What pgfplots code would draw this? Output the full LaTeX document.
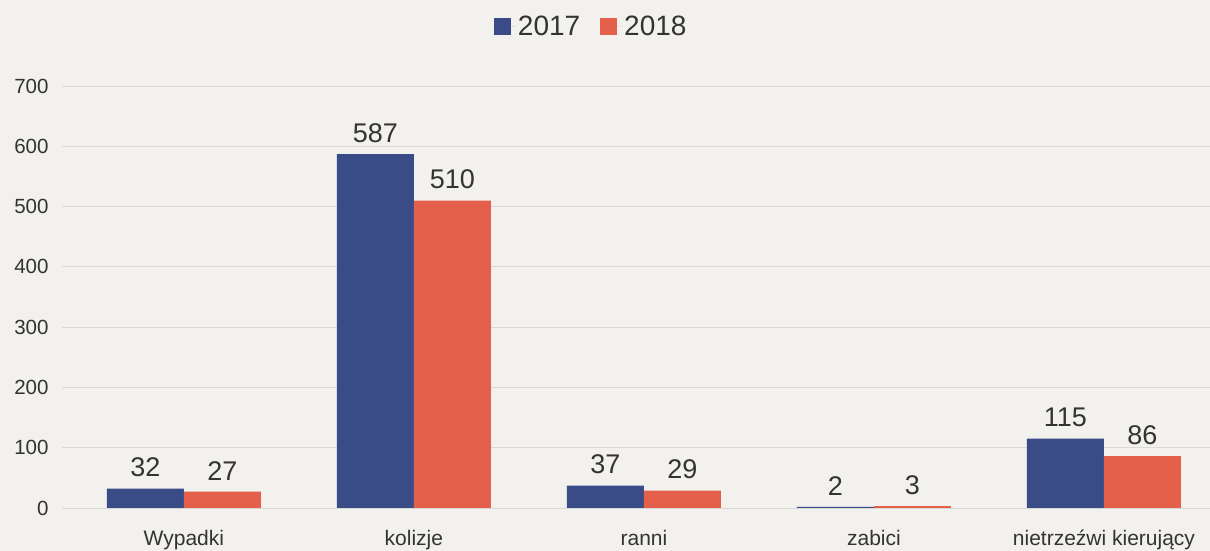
\documentclass[border=0pt]{standalone}
\usepackage{pgfplots}
\pgfplotsset{compat=1.18}
\usepackage{fontspec}
\setmainfont{Liberation Sans}
\definecolor{bgc}{HTML}{F3F1EE}
\definecolor{gridc}{HTML}{D9D8D6}
\definecolor{blu}{HTML}{394C88}
\definecolor{rd}{HTML}{E4604B}
\definecolor{txt}{HTML}{333333}
\begin{document}
\begin{tikzpicture}[x=1pt,y=1pt]
\useasboundingbox (0,0) rectangle (1210,551);
\fill[bgc] (0,0) rectangle (1210,551);
\begin{axis}[
  at={(62pt,43pt)}, anchor=south west,
  scale only axis, width=1148pt, height=422pt,
  ybar=0pt, bar width=77pt,
  xmin=-0.530, xmax=4.461, ymin=0, ymax=700,
  xtick={0,1,2,3,4},
  xticklabels={Wypadki,kolizje,ranni,zabici,nietrzeźwi kierujący},
  ytick={0,100,...,700},
  axis line style={draw=none},
  major tick length=0pt,
  ymajorgrids, grid style={gridc, line width=0.8pt},
  /pgf/number format/assume math mode=true,
  yticklabel style={font=\fontsize{20.5}{23}\selectfont, text=txt, xshift=-10pt},
  xticklabel style={font=\fontsize{21}{24}\selectfont, text=txt, anchor=base, yshift=-38pt},
  nodes near coords,
  every node near coord/.append style={font=\fontsize{27}{30}\selectfont, text=txt, yshift=8pt},
  legend columns=2,
  legend style={at={(0.461,1.14)}, anchor=center, draw=none, fill=none,
    font=\fontsize{28}{30}\selectfont, text=txt,
    /tikz/every even column/.append style={column sep=18pt}},
  legend image code/.code={\fill[#1] (0pt,-8.5pt) rectangle (17pt,8.5pt); \path (0pt,0pt) -- (22pt,0pt);},
  clip=false,
]
\addplot[fill=blu, draw=none] coordinates {(0,32) (1,587) (2,37) (3,2) (4,115)};
\addplot[fill=rd, draw=none] coordinates {(0,27) (1,510) (2,29) (3,3) (4,86)};
\legend{2017,2018}
\end{axis}
\end{tikzpicture}
\end{document}
